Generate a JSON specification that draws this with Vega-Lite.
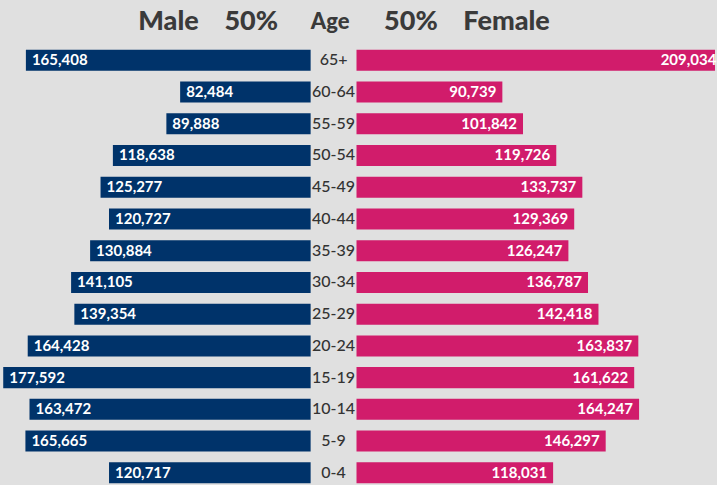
{
  "$schema": "https://vega.github.io/schema/vega-lite/v6.json",
  "width": 717,
  "height": 485,
  "autosize": {"type": "fit", "contains": "padding"},
  "padding": 0,
  "background": "#e0e0e0",
  "config": {"view": {"stroke": null}, "font": "Lato"},
  "data": {"values": [
    {"age": "65+", "male": 165408, "female": 209034},
    {"age": "60-64", "male": 82484, "female": 90739},
    {"age": "55-59", "male": 89888, "female": 101842},
    {"age": "50-54", "male": 118638, "female": 119726},
    {"age": "45-49", "male": 125277, "female": 133737},
    {"age": "40-44", "male": 120727, "female": 129369},
    {"age": "35-39", "male": 130884, "female": 126247},
    {"age": "30-34", "male": 141105, "female": 136787},
    {"age": "25-29", "male": 139354, "female": 142418},
    {"age": "20-24", "male": 164428, "female": 163837},
    {"age": "15-19", "male": 177592, "female": 161622},
    {"age": "10-14", "male": 163472, "female": 164247},
    {"age": "5-9", "male": 165665, "female": 146297},
    {"age": "0-4", "male": 120717, "female": 118031}
  ]},
  "transform": [{"calculate": "-datum.male", "as": "male_neg"}],
  "encoding": {
    "y": {
      "field": "age", "type": "nominal",
      "scale": {
        "domain": ["Age", "65+", "60-64", "55-59", "50-54", "45-49", "40-44", "35-39", "30-34", "25-29", "20-24", "15-19", "10-14", "5-9", "0-4"],
        "paddingInner": 0.338, "paddingOuter": 0.309, "align": 0.916
      },
      "axis": null
    }
  },
  "layer": [
    {
      "mark": {"type": "bar", "color": "#00336a", "clip": true},
      "encoding": {
        "x": {"field": "male_neg", "type": "quantitative", "scale": {"domain": [-179328, 205060], "nice": false, "zero": false}, "axis": null},
        "x2": {"datum": -12330}
      }
    },
    {
      "mark": {"type": "bar", "color": "#d11c6b", "clip": true},
      "encoding": {
        "x": {"field": "female", "type": "quantitative"},
        "x2": {"datum": 12330}
      }
    },
    {
      "mark": {"type": "text", "align": "left", "dx": 6, "color": "white", "fontSize": 15, "fontWeight": "bold"},
      "encoding": {
        "x": {"field": "male_neg", "type": "quantitative"},
        "text": {"field": "male", "type": "quantitative", "format": ","}
      }
    },
    {
      "mark": {"type": "text", "align": "right", "dx": -6, "color": "white", "fontSize": 15, "fontWeight": "bold"},
      "encoding": {
        "x": {"field": "female", "type": "quantitative"},
        "text": {"field": "female", "type": "quantitative", "format": ","}
      }
    },
    {
      "mark": {"type": "text", "align": "center", "color": "#333333", "fontSize": 16, "fontWeight": 500},
      "encoding": {
        "x": {"datum": 0},
        "text": {"field": "age", "type": "nominal"}
      }
    },
    {
      "data": {"values": [{"label": "Male\u00a0\u00a0\u00a0\u00a050%"}]},
      "mark": {"type": "text", "align": "right", "dx": -55.5, "dy": -6.5, "color": "#3a3a3a", "fontSize": 27, "fontWeight": 900},
      "encoding": {"x": {"datum": 0}, "y": {"datum": "Age"}, "text": {"field": "label"}}
    },
    {
      "data": {"values": [{"label": "Age"}]},
      "mark": {"type": "text", "align": "center", "dx": -3.5, "dy": -6.5, "color": "#3a3a3a", "fontSize": 22, "fontWeight": 900},
      "encoding": {"x": {"datum": 0}, "y": {"datum": "Age"}, "text": {"field": "label"}}
    },
    {
      "data": {"values": [{"label": "50%\u00a0\u00a0\u00a0\u00a0Female"}]},
      "mark": {"type": "text", "align": "left", "dx": 50.5, "dy": -6.5, "color": "#3a3a3a", "fontSize": 27, "fontWeight": 900},
      "encoding": {"x": {"datum": 0}, "y": {"datum": "Age"}, "text": {"field": "label"}}
    }
  ]
}
